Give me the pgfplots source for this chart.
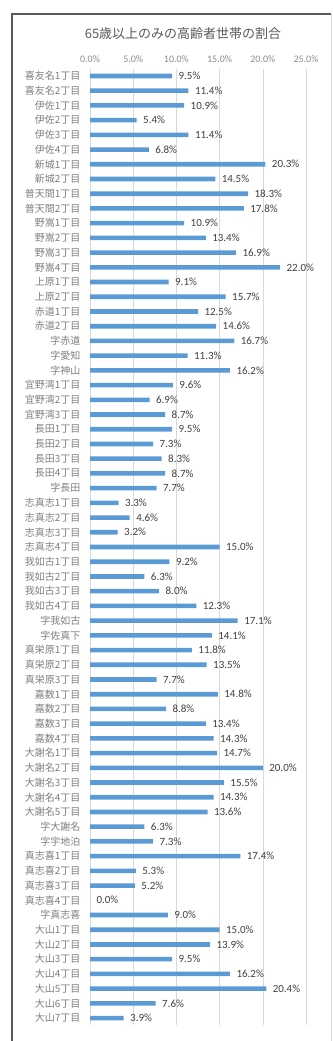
\documentclass[border=0pt]{standalone}
\usepackage{pgfplots}
\pgfplotsset{compat=1.18}
\usepackage{pgfplotstable}
\usepackage{fontspec}
\setmainfont{Carlito}
\newfontfamily\jp{Noto Sans CJK JP}

\definecolor{barblue}{HTML}{5B9BD5}
\definecolor{lbl}{HTML}{404040}
\definecolor{cat}{HTML}{7F7F7F}
\definecolor{tck}{HTML}{8C8C8C}
\definecolor{ttl}{HTML}{595959}
\definecolor{grd}{HTML}{D9D9D9}

\pgfplotstableread[col sep=comma]{
name,val
喜友名1丁目,9.5
喜友名2丁目,11.4
伊佐1丁目,10.9
伊佐2丁目,5.4
伊佐3丁目,11.4
伊佐4丁目,6.8
新城1丁目,20.3
新城2丁目,14.5
普天間1丁目,18.3
普天間2丁目,17.8
野嵩1丁目,10.9
野嵩2丁目,13.4
野嵩3丁目,16.9
野嵩4丁目,22.0
上原1丁目,9.1
上原2丁目,15.7
赤道1丁目,12.5
赤道2丁目,14.6
字赤道,16.7
字愛知,11.3
字神山,16.2
宜野湾1丁目,9.6
宜野湾2丁目,6.9
宜野湾3丁目,8.7
長田1丁目,9.5
長田2丁目,7.3
長田3丁目,8.3
長田4丁目,8.7
字長田,7.7
志真志1丁目,3.3
志真志2丁目,4.6
志真志3丁目,3.2
志真志4丁目,15.0
我如古1丁目,9.2
我如古2丁目,6.3
我如古3丁目,8.0
我如古4丁目,12.3
字我如古,17.1
字佐真下,14.1
真栄原1丁目,11.8
真栄原2丁目,13.5
真栄原3丁目,7.7
嘉数1丁目,14.8
嘉数2丁目,8.8
嘉数3丁目,13.4
嘉数4丁目,14.3
大謝名1丁目,14.7
大謝名2丁目,20.0
大謝名3丁目,15.5
大謝名4丁目,14.3
大謝名5丁目,13.6
字大謝名,6.3
字宇地泊,7.3
真志喜1丁目,17.4
真志喜2丁目,5.3
真志喜3丁目,5.2
真志喜4丁目,0.0
字真志喜,9.0
大山1丁目,15.0
大山2丁目,13.9
大山3丁目,9.5
大山4丁目,16.2
大山5丁目,20.4
大山6丁目,7.6
大山7丁目,3.9
}\ratio

\begin{document}
\begin{tikzpicture}[x=1pt,y=1pt]
\useasboundingbox (0,0) rectangle (332,1041);
% chart frame
\draw[color=ttl, line width=1.4pt] (12,-5) -- (12,1027) -- (331,1027);
\draw[color=grd, line width=0.8pt] (331.4,1027) -- (331.4,-5);
% title
\node[font=\jp\fontsize{13}{15}\selectfont, color=ttl] at (183,1007) {65歳以上のみの高齢者世帯の割合};
\begin{axis}[
  at={(90pt,15.6pt)}, anchor=south west,
  scale only axis, width=216pt, height=956.8pt,
  xbar, bar width=4.6pt,
  y dir=reverse,
  xmin=0, xmax=25, ymin=-0.5, ymax=64.5,
  xtick={0,5,10,15,20,25},
  xticklabel pos=upper,
  xticklabel={\pgfmathprintnumber[fixed,fixed zerofill,precision=1]{\tick}\%},
  /pgf/number format/assume math mode=true,
  xticklabel style={font=\fontsize{10}{12}\selectfont, color=tck, yshift=2pt},
  ytick={0,...,64},
  yticklabels from table={\ratio}{name},
  yticklabel style={font=\jp\fontsize{10}{12}\selectfont, color=cat, xshift=-6pt},
  major tick length=0pt,
  axis line style={draw=none},
  xmajorgrids, grid style={color=grd, line width=0.6pt},
  nodes near coords={\pgfmathprintnumber[fixed,fixed zerofill,precision=1]{\pgfplotspointmeta}\%},
  point meta=x,
  nodes near coords style={font=\fontsize{11}{13}\selectfont, color=lbl, anchor=west, xshift=3pt},
  clip=false,
]
\addplot[fill=barblue, draw=none] table[x=val, y expr=\coordindex] {\ratio};
\end{axis}
\end{tikzpicture}
\end{document}
